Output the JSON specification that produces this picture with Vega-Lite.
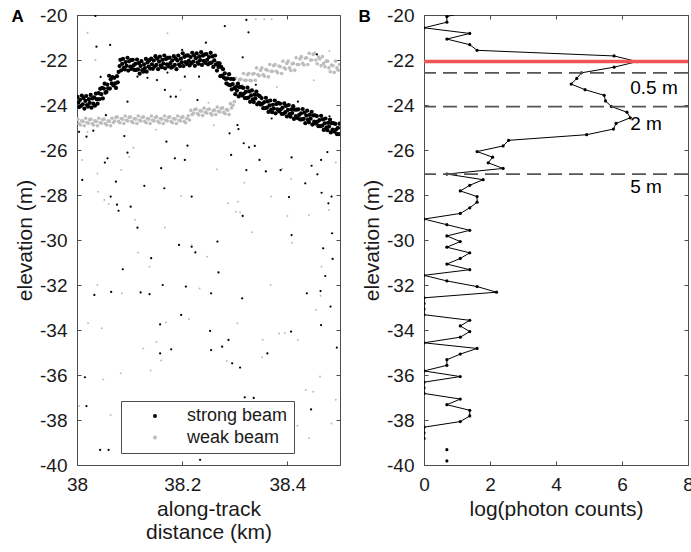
{
"$schema": "https://vega.github.io/schema/vega-lite/v6.json",
"padding": {"left": 11, "top": 5, "right": 0, "bottom": 0},
"spacing": 17,
"config": {
 "font": "Liberation Sans",
 "view": {"stroke": "#4d4d4d", "strokeWidth": 1},
 "axis": {"grid": false, "domain": false, "ticks": true, "tickSize": -4, "tickColor": "#4d4d4d", "labelFont": "Liberation Sans", "labelFontSize": 19, "labelColor": "#1a1a1a", "labelFlush": false, "titleFont": "Liberation Sans", "titleFontSize": 21, "titleFontWeight": "normal", "titleColor": "#1a1a1a", "labelPadding": 14, "titlePadding": 4, "titleLineHeight": 23}
},
"datasets": {
 "sb": [
{"d":38.001,"e":-23.64,"b":"s"},{"d":38.0025,"e":-23.89,"b":"s"},{"d":38.0041,"e":-24.09,"b":"s"},
{"d":38.006,"e":-23.77,"b":"s"},{"d":38.0075,"e":-24.04,"b":"s"},{"d":38.0091,"e":-23.58,"b":"s"},
{"d":38.011,"e":-23.97,"b":"s"},{"d":38.0125,"e":-23.69,"b":"s"},{"d":38.0141,"e":-24.16,"b":"s"},
{"d":38.016,"e":-23.82,"b":"s"},{"d":38.0175,"e":-23.60,"b":"s"},{"d":38.0191,"e":-24.00,"b":"s"},
{"d":38.021,"e":-24.07,"b":"s"},{"d":38.0225,"e":-23.74,"b":"s"},{"d":38.0241,"e":-23.91,"b":"s"},
{"d":38.026,"e":-23.55,"b":"s"},{"d":38.0275,"e":-24.12,"b":"s"},{"d":38.0291,"e":-23.71,"b":"s"},
{"d":38.031,"e":-23.94,"b":"s"},{"d":38.0325,"e":-23.66,"b":"s"},{"d":38.0341,"e":-24.03,"b":"s"},
{"d":38.036,"e":-23.49,"b":"s"},{"d":38.0375,"e":-23.74,"b":"s"},{"d":38.0391,"e":-23.94,"b":"s"},
{"d":38.041,"e":-23.47,"b":"s"},{"d":38.0425,"e":-23.74,"b":"s"},{"d":38.0441,"e":-23.28,"b":"s"},
{"d":38.046,"e":-23.52,"b":"s"},{"d":38.0475,"e":-23.24,"b":"s"},{"d":38.0491,"e":-23.71,"b":"s"},
{"d":38.051,"e":-23.27,"b":"s"},{"d":38.0525,"e":-23.05,"b":"s"},{"d":38.0541,"e":-23.45,"b":"s"},
{"d":38.056,"e":-23.42,"b":"s"},{"d":38.0575,"e":-23.09,"b":"s"},{"d":38.0591,"e":-23.26,"b":"s"},
{"d":38.061,"e":-22.70,"b":"s"},{"d":38.0625,"e":-23.27,"b":"s"},{"d":38.0641,"e":-22.86,"b":"s"},
{"d":38.066,"e":-23.04,"b":"s"},{"d":38.0675,"e":-22.76,"b":"s"},{"d":38.0691,"e":-23.13,"b":"s"},
{"d":38.071,"e":-22.79,"b":"s"},{"d":38.0725,"e":-23.04,"b":"s"},{"d":38.0741,"e":-23.24,"b":"s"},
{"d":38.076,"e":-22.72,"b":"s"},{"d":38.0775,"e":-22.99,"b":"s"},{"d":38.0791,"e":-22.53,"b":"s"},
{"d":38.081,"e":-22.27,"b":"s"},{"d":38.0825,"e":-21.99,"b":"s"},{"d":38.0841,"e":-22.46,"b":"s"},
{"d":38.086,"e":-22.17,"b":"s"},{"d":38.0875,"e":-21.95,"b":"s"},{"d":38.0891,"e":-22.35,"b":"s"},
{"d":38.091,"e":-22.42,"b":"s"},{"d":38.0925,"e":-22.09,"b":"s"},{"d":38.0941,"e":-22.26,"b":"s"},
{"d":38.096,"e":-21.90,"b":"s"},{"d":38.0975,"e":-22.47,"b":"s"},{"d":38.0991,"e":-22.06,"b":"s"},
{"d":38.101,"e":-22.29,"b":"s"},{"d":38.1025,"e":-22.01,"b":"s"},{"d":38.1041,"e":-22.38,"b":"s"},
{"d":38.106,"e":-21.99,"b":"s"},{"d":38.1075,"e":-22.24,"b":"s"},{"d":38.1091,"e":-22.44,"b":"s"},
{"d":38.111,"e":-22.17,"b":"s"},{"d":38.1125,"e":-22.44,"b":"s"},{"d":38.1141,"e":-21.98,"b":"s"},
{"d":38.116,"e":-22.42,"b":"s"},{"d":38.1175,"e":-22.14,"b":"s"},{"d":38.1191,"e":-22.61,"b":"s"},
{"d":38.121,"e":-22.27,"b":"s"},{"d":38.1225,"e":-22.05,"b":"s"},{"d":38.1241,"e":-22.45,"b":"s"},
{"d":38.126,"e":-22.52,"b":"s"},{"d":38.1275,"e":-22.19,"b":"s"},{"d":38.1291,"e":-22.36,"b":"s"},
{"d":38.131,"e":-21.95,"b":"s"},{"d":38.1325,"e":-22.52,"b":"s"},{"d":38.1341,"e":-22.11,"b":"s"},
{"d":38.136,"e":-22.29,"b":"s"},{"d":38.1375,"e":-22.01,"b":"s"},{"d":38.1391,"e":-22.38,"b":"s"},
{"d":38.141,"e":-21.94,"b":"s"},{"d":38.1425,"e":-22.19,"b":"s"},{"d":38.1441,"e":-22.39,"b":"s"},
{"d":38.146,"e":-22.02,"b":"s"},{"d":38.1475,"e":-22.29,"b":"s"},{"d":38.1491,"e":-21.83,"b":"s"},
{"d":38.151,"e":-22.22,"b":"s"},{"d":38.1525,"e":-21.94,"b":"s"},{"d":38.1541,"e":-22.41,"b":"s"},
{"d":38.156,"e":-22.07,"b":"s"},{"d":38.1575,"e":-21.85,"b":"s"},{"d":38.1591,"e":-22.25,"b":"s"},
{"d":38.161,"e":-22.32,"b":"s"},{"d":38.1625,"e":-21.99,"b":"s"},{"d":38.1641,"e":-22.16,"b":"s"},
{"d":38.166,"e":-21.80,"b":"s"},{"d":38.1675,"e":-22.37,"b":"s"},{"d":38.1691,"e":-21.96,"b":"s"},
{"d":38.171,"e":-22.19,"b":"s"},{"d":38.1725,"e":-21.91,"b":"s"},{"d":38.1741,"e":-22.28,"b":"s"},
{"d":38.176,"e":-21.89,"b":"s"},{"d":38.1775,"e":-22.14,"b":"s"},{"d":38.1791,"e":-22.34,"b":"s"},
{"d":38.181,"e":-22.02,"b":"s"},{"d":38.1825,"e":-22.29,"b":"s"},{"d":38.1841,"e":-21.83,"b":"s"},
{"d":38.186,"e":-22.22,"b":"s"},{"d":38.1875,"e":-21.94,"b":"s"},{"d":38.1891,"e":-22.41,"b":"s"},
{"d":38.191,"e":-22.02,"b":"s"},{"d":38.1925,"e":-21.80,"b":"s"},{"d":38.1941,"e":-22.20,"b":"s"},
{"d":38.196,"e":-22.27,"b":"s"},{"d":38.1975,"e":-21.94,"b":"s"},{"d":38.1991,"e":-22.11,"b":"s"},
{"d":38.201,"e":-21.70,"b":"s"},{"d":38.2025,"e":-22.27,"b":"s"},{"d":38.2041,"e":-21.86,"b":"s"},
{"d":38.206,"e":-22.09,"b":"s"},{"d":38.2075,"e":-21.81,"b":"s"},{"d":38.2091,"e":-22.18,"b":"s"},
{"d":38.211,"e":-21.79,"b":"s"},{"d":38.2125,"e":-22.04,"b":"s"},{"d":38.2141,"e":-22.24,"b":"s"},
{"d":38.216,"e":-21.87,"b":"s"},{"d":38.2175,"e":-22.14,"b":"s"},{"d":38.2191,"e":-21.68,"b":"s"},
{"d":38.221,"e":-22.07,"b":"s"},{"d":38.2225,"e":-21.79,"b":"s"},{"d":38.2241,"e":-22.26,"b":"s"},
{"d":38.226,"e":-21.92,"b":"s"},{"d":38.2275,"e":-21.70,"b":"s"},{"d":38.2291,"e":-22.10,"b":"s"},
{"d":38.231,"e":-22.17,"b":"s"},{"d":38.2325,"e":-21.84,"b":"s"},{"d":38.2341,"e":-22.01,"b":"s"},
{"d":38.236,"e":-21.65,"b":"s"},{"d":38.2375,"e":-22.22,"b":"s"},{"d":38.2391,"e":-21.81,"b":"s"},
{"d":38.241,"e":-22.04,"b":"s"},{"d":38.2425,"e":-21.76,"b":"s"},{"d":38.2441,"e":-22.13,"b":"s"},
{"d":38.246,"e":-21.74,"b":"s"},{"d":38.2475,"e":-21.99,"b":"s"},{"d":38.2491,"e":-22.19,"b":"s"},
{"d":38.251,"e":-21.87,"b":"s"},{"d":38.2525,"e":-22.14,"b":"s"},{"d":38.2541,"e":-21.68,"b":"s"},
{"d":38.256,"e":-22.12,"b":"s"},{"d":38.2575,"e":-21.84,"b":"s"},{"d":38.2591,"e":-22.31,"b":"s"},
{"d":38.261,"e":-22.02,"b":"s"},{"d":38.2625,"e":-21.80,"b":"s"},{"d":38.2641,"e":-22.20,"b":"s"},
{"d":38.266,"e":-22.47,"b":"s"},{"d":38.2675,"e":-22.14,"b":"s"},{"d":38.2691,"e":-22.31,"b":"s"},
{"d":38.271,"e":-22.15,"b":"s"},{"d":38.2725,"e":-22.72,"b":"s"},{"d":38.2741,"e":-22.31,"b":"s"},
{"d":38.276,"e":-22.69,"b":"s"},{"d":38.2775,"e":-22.41,"b":"s"},{"d":38.2791,"e":-22.78,"b":"s"},
{"d":38.281,"e":-22.59,"b":"s"},{"d":38.2825,"e":-22.84,"b":"s"},{"d":38.2841,"e":-23.04,"b":"s"},
{"d":38.286,"e":-22.82,"b":"s"},{"d":38.2875,"e":-23.09,"b":"s"},{"d":38.2891,"e":-22.63,"b":"s"},
{"d":38.291,"e":-23.12,"b":"s"},{"d":38.2925,"e":-22.84,"b":"s"},{"d":38.2941,"e":-23.31,"b":"s"},
{"d":38.296,"e":-23.07,"b":"s"},{"d":38.2975,"e":-22.85,"b":"s"},{"d":38.2991,"e":-23.25,"b":"s"},
{"d":38.301,"e":-23.52,"b":"s"},{"d":38.3025,"e":-23.19,"b":"s"},{"d":38.3041,"e":-23.36,"b":"s"},
{"d":38.306,"e":-23.05,"b":"s"},{"d":38.3075,"e":-23.62,"b":"s"},{"d":38.3091,"e":-23.21,"b":"s"},
{"d":38.311,"e":-23.49,"b":"s"},{"d":38.3125,"e":-23.21,"b":"s"},{"d":38.3141,"e":-23.58,"b":"s"},
{"d":38.316,"e":-23.24,"b":"s"},{"d":38.3175,"e":-23.49,"b":"s"},{"d":38.3191,"e":-23.69,"b":"s"},
{"d":38.321,"e":-23.42,"b":"s"},{"d":38.3225,"e":-23.69,"b":"s"},{"d":38.3241,"e":-23.23,"b":"s"},
{"d":38.326,"e":-23.67,"b":"s"},{"d":38.3275,"e":-23.39,"b":"s"},{"d":38.3291,"e":-23.86,"b":"s"},
{"d":38.331,"e":-23.57,"b":"s"},{"d":38.3325,"e":-23.35,"b":"s"},{"d":38.3341,"e":-23.75,"b":"s"},
{"d":38.336,"e":-23.87,"b":"s"},{"d":38.3375,"e":-23.54,"b":"s"},{"d":38.3391,"e":-23.71,"b":"s"},
{"d":38.341,"e":-23.40,"b":"s"},{"d":38.3425,"e":-23.97,"b":"s"},{"d":38.3441,"e":-23.56,"b":"s"},
{"d":38.346,"e":-23.89,"b":"s"},{"d":38.3475,"e":-23.61,"b":"s"},{"d":38.3491,"e":-23.98,"b":"s"},
{"d":38.351,"e":-23.69,"b":"s"},{"d":38.3525,"e":-23.94,"b":"s"},{"d":38.3541,"e":-24.14,"b":"s"},
{"d":38.356,"e":-23.87,"b":"s"},{"d":38.3575,"e":-24.14,"b":"s"},{"d":38.3591,"e":-23.68,"b":"s"},
{"d":38.361,"e":-24.12,"b":"s"},{"d":38.3625,"e":-23.84,"b":"s"},{"d":38.3641,"e":-24.31,"b":"s"},
{"d":38.366,"e":-24.02,"b":"s"},{"d":38.3675,"e":-23.80,"b":"s"},{"d":38.3691,"e":-24.20,"b":"s"},
{"d":38.371,"e":-24.32,"b":"s"},{"d":38.3725,"e":-23.99,"b":"s"},{"d":38.3741,"e":-24.16,"b":"s"},
{"d":38.376,"e":-23.80,"b":"s"},{"d":38.3775,"e":-24.37,"b":"s"},{"d":38.3791,"e":-23.96,"b":"s"},
{"d":38.381,"e":-24.19,"b":"s"},{"d":38.3825,"e":-23.91,"b":"s"},{"d":38.3841,"e":-24.28,"b":"s"},
{"d":38.386,"e":-23.94,"b":"s"},{"d":38.3875,"e":-24.19,"b":"s"},{"d":38.3891,"e":-24.39,"b":"s"},
{"d":38.391,"e":-24.12,"b":"s"},{"d":38.3925,"e":-24.39,"b":"s"},{"d":38.3941,"e":-23.93,"b":"s"},
{"d":38.396,"e":-24.32,"b":"s"},{"d":38.3975,"e":-24.04,"b":"s"},{"d":38.3991,"e":-24.51,"b":"s"},
{"d":38.401,"e":-24.22,"b":"s"},{"d":38.4025,"e":-24.00,"b":"s"},{"d":38.4041,"e":-24.40,"b":"s"},
{"d":38.406,"e":-24.52,"b":"s"},{"d":38.4075,"e":-24.19,"b":"s"},{"d":38.4091,"e":-24.36,"b":"s"},
{"d":38.411,"e":-24.05,"b":"s"},{"d":38.4125,"e":-24.62,"b":"s"},{"d":38.4141,"e":-24.21,"b":"s"},
{"d":38.416,"e":-24.49,"b":"s"},{"d":38.4175,"e":-24.21,"b":"s"},{"d":38.4191,"e":-24.58,"b":"s"},
{"d":38.421,"e":-24.19,"b":"s"},{"d":38.4225,"e":-24.44,"b":"s"},{"d":38.4241,"e":-24.64,"b":"s"},
{"d":38.426,"e":-24.37,"b":"s"},{"d":38.4275,"e":-24.64,"b":"s"},{"d":38.4291,"e":-24.18,"b":"s"},
{"d":38.431,"e":-24.62,"b":"s"},{"d":38.4325,"e":-24.34,"b":"s"},{"d":38.4341,"e":-24.81,"b":"s"},
{"d":38.436,"e":-24.47,"b":"s"},{"d":38.4375,"e":-24.25,"b":"s"},{"d":38.4391,"e":-24.65,"b":"s"},
{"d":38.441,"e":-24.77,"b":"s"},{"d":38.4425,"e":-24.44,"b":"s"},{"d":38.4441,"e":-24.61,"b":"s"},
{"d":38.446,"e":-24.30,"b":"s"},{"d":38.4475,"e":-24.87,"b":"s"},{"d":38.4491,"e":-24.46,"b":"s"},
{"d":38.451,"e":-24.74,"b":"s"},{"d":38.4525,"e":-24.46,"b":"s"},{"d":38.4541,"e":-24.83,"b":"s"},
{"d":38.456,"e":-24.49,"b":"s"},{"d":38.4575,"e":-24.74,"b":"s"},{"d":38.4591,"e":-24.94,"b":"s"},
{"d":38.461,"e":-24.67,"b":"s"},{"d":38.4625,"e":-24.94,"b":"s"},{"d":38.4641,"e":-24.48,"b":"s"},
{"d":38.466,"e":-24.92,"b":"s"},{"d":38.4675,"e":-24.64,"b":"s"},{"d":38.4691,"e":-25.11,"b":"s"},
{"d":38.471,"e":-24.82,"b":"s"},{"d":38.4725,"e":-24.60,"b":"s"},{"d":38.4741,"e":-25.00,"b":"s"},
{"d":38.476,"e":-25.12,"b":"s"},{"d":38.4775,"e":-24.79,"b":"s"},{"d":38.4791,"e":-24.96,"b":"s"},
{"d":38.481,"e":-24.65,"b":"s"},{"d":38.4825,"e":-25.22,"b":"s"},{"d":38.4841,"e":-24.81,"b":"s"},
{"d":38.486,"e":-25.09,"b":"s"},{"d":38.4875,"e":-24.81,"b":"s"},{"d":38.4891,"e":-25.18,"b":"s"},
{"d":38.491,"e":-24.84,"b":"s"},{"d":38.4925,"e":-25.09,"b":"s"},{"d":38.4941,"e":-25.29,"b":"s"},
{"d":38.496,"e":-25.02,"b":"s"},{"d":38.4975,"e":-25.29,"b":"s"},{"d":38.4991,"e":-24.83,"b":"s"}
 ],
 "sn": [
{"d":38.035,"e":-20.04,"b":"s"},{"d":38.326,"e":-20.77,"b":"s"},{"d":38.322,"e":-20.22,"b":"s"},{"d":38.281,"e":-20.49,"b":"s"},{"d":38.037,"e":-21.41,"b":"s"},{"d":38.063,"e":-21.33,"b":"s"},{"d":38.245,"e":-21.23,"b":"s"},{"d":38.315,"e":-21.88,"b":"s"},{"d":38.456,"e":-21.75,"b":"s"},{"d":38.152,"e":-22.89,"b":"s"},{"d":38.167,"e":-23.33,"b":"s"},{"d":38.178,"e":-23.63,"b":"s"},{"d":38.188,"e":-23.63,"b":"s"},{"d":38.229,"e":-23.78,"b":"s"},{"d":38.096,"e":-23.85,"b":"s"},{"d":38.305,"e":-24.89,"b":"s"},{"d":38.307,"e":-25.07,"b":"s"},{"d":38.29,"e":-25.26,"b":"s"},{"d":38.21,"e":-25.81,"b":"s"},{"d":38.17,"e":-25.63,"b":"s"},{"d":38.09,"e":-25.38,"b":"s"},{"d":38.096,"e":-26.12,"b":"s"},{"d":38.058,"e":-26.37,"b":"s"},{"d":38.053,"e":-26.56,"b":"s"},{"d":38.317,"e":-25.7,"b":"s"},{"d":38.327,"e":-25.88,"b":"s"},{"d":38.338,"e":-25.82,"b":"s"},{"d":38.293,"e":-26.22,"b":"s"},{"d":38.322,"e":-26.89,"b":"s"},{"d":38.347,"e":-26.44,"b":"s"},{"d":38.359,"e":-26.95,"b":"s"},{"d":38.387,"e":-26.89,"b":"s"},{"d":38.408,"e":-26.33,"b":"s"},{"d":38.446,"e":-26.7,"b":"s"},{"d":38.464,"e":-26.44,"b":"s"},{"d":38.476,"e":-26.09,"b":"s"},{"d":38.457,"e":-27.08,"b":"s"},{"d":38.16,"e":-26.81,"b":"s"},{"d":38.186,"e":-26.37,"b":"s"},{"d":38.205,"e":-26.44,"b":"s"},{"d":38.074,"e":-27.41,"b":"s"},{"d":38.128,"e":-27.59,"b":"s"},{"d":38.166,"e":-27.7,"b":"s"},{"d":38.218,"e":-28.07,"b":"s"},{"d":38.064,"e":-28.07,"b":"s"},{"d":38.076,"e":-28.43,"b":"s"},{"d":38.079,"e":-28.7,"b":"s"},{"d":38.102,"e":-28.52,"b":"s"},{"d":38.01,"e":-27.33,"b":"s"},{"d":38.434,"e":-27.48,"b":"s"},{"d":38.465,"e":-27.9,"b":"s"},{"d":38.484,"e":-28.07,"b":"s"},{"d":38.478,"e":-28.37,"b":"s"},{"d":38.403,"e":-28.09,"b":"s"},{"d":38.315,"e":-28.93,"b":"s"},{"d":38.115,"e":-29.45,"b":"s"},{"d":38.141,"e":-30.81,"b":"s"},{"d":38.194,"e":-30.22,"b":"s"},{"d":38.218,"e":-30.3,"b":"s"},{"d":38.225,"e":-30.55,"b":"s"},{"d":38.267,"e":-30.07,"b":"s"},{"d":38.408,"e":-29.78,"b":"s"},{"d":38.468,"e":-30.37,"b":"s"},{"d":38.485,"e":-29.7,"b":"s"},{"d":38.486,"e":-30.84,"b":"s"},{"d":38.087,"e":-31.3,"b":"s"},{"d":38.269,"e":-31.44,"b":"s"},{"d":38.472,"e":-31.6,"b":"s"},{"d":38.163,"e":-32.0,"b":"s"},{"d":38.207,"e":-32.07,"b":"s"},
{"d":38.033,"e":-32.44,"b":"s"},{"d":38.065,"e":-32.31,"b":"s"},{"d":38.121,"e":-32.33,"b":"s"},{"d":38.138,"e":-32.41,"b":"s"},{"d":38.255,"e":-32.37,"b":"s"},{"d":38.314,"e":-32.59,"b":"s"},{"d":38.437,"e":-32.37,"b":"s"},{"d":38.463,"e":-32.27,"b":"s"},{"d":38.482,"e":-32.96,"b":"s"},{"d":38.198,"e":-33.33,"b":"s"},{"d":38.158,"e":-33.75,"b":"s"},{"d":38.253,"e":-34.04,"b":"s"},{"d":38.407,"e":-34.07,"b":"s"},{"d":38.464,"e":-33.78,"b":"s"},{"d":38.288,"e":-34.44,"b":"s"},{"d":38.276,"e":-34.74,"b":"s"},{"d":38.255,"e":-34.89,"b":"s"},{"d":38.179,"e":-34.86,"b":"s"},{"d":38.158,"e":-35.04,"b":"s"},{"d":38.362,"e":-35.04,"b":"s"},{"d":38.295,"e":-35.48,"b":"s"},{"d":38.31,"e":-35.67,"b":"s"},{"d":38.494,"e":-34.78,"b":"s"},{"d":38.015,"e":-36.1,"b":"s"},{"d":38.319,"e":-36.99,"b":"s"},{"d":38.336,"e":-37.02,"b":"s"},{"d":38.018,"e":-37.38,"b":"s"},{"d":38.445,"e":-37.53,"b":"s"},{"d":38.044,"e":-39.33,"b":"s"},{"d":38.06,"e":-39.33,"b":"s"},{"d":38.234,"e":-39.77,"b":"s"},
{"d":38.004,"e":-25.19,"b":"s"},{"d":38.018,"e":-25.41,"b":"s"},{"d":38.031,"e":-25.14,"b":"s"},{"d":38.102,"e":-22.44,"b":"s"},{"d":38.115,"e":-22.74,"b":"s"},{"d":38.134,"e":-22.79,"b":"s"},{"d":38.172,"e":-22.56,"b":"s"},{"d":38.205,"e":-22.74,"b":"s"},{"d":38.232,"e":-22.74,"b":"s"},{"d":38.045,"e":-22.75,"b":"s"},{"d":38.2,"e":-21.55,"b":"s"},{"d":38.34,"e":-23.1,"b":"s"},{"d":38.42,"e":-23.85,"b":"s"},{"d":38.48,"e":-24.5,"b":"s"},{"d":38.37,"e":-24.6,"b":"s"},{"d":38.055,"e":-24.45,"b":"s"}
 ],
 "wb": [
{"d":38.0015,"e":-24.63,"b":"w"},{"d":38.004,"e":-24.83,"b":"w"},{"d":38.0065,"e":-24.89,"b":"w"},{"d":38.009,"e":-24.70,"b":"w"},{"d":38.0115,"e":-24.73,"b":"w"},{"d":38.014,"e":-24.92,"b":"w"},{"d":38.0165,"e":-24.59,"b":"w"},{"d":38.019,"e":-24.78,"b":"w"},{"d":38.0215,"e":-24.81,"b":"w"},{"d":38.024,"e":-24.65,"b":"w"},
{"d":38.0265,"e":-24.63,"b":"w"},{"d":38.029,"e":-24.83,"b":"w"},{"d":38.0315,"e":-24.89,"b":"w"},{"d":38.034,"e":-24.70,"b":"w"},{"d":38.0365,"e":-24.73,"b":"w"},{"d":38.039,"e":-24.92,"b":"w"},{"d":38.0415,"e":-24.59,"b":"w"},{"d":38.044,"e":-24.78,"b":"w"},{"d":38.0465,"e":-24.81,"b":"w"},{"d":38.049,"e":-24.65,"b":"w"},
{"d":38.0515,"e":-24.63,"b":"w"},{"d":38.054,"e":-24.83,"b":"w"},{"d":38.0565,"e":-24.89,"b":"w"},{"d":38.059,"e":-24.70,"b":"w"},{"d":38.0615,"e":-24.73,"b":"w"},{"d":38.064,"e":-24.92,"b":"w"},{"d":38.0665,"e":-24.59,"b":"w"},{"d":38.069,"e":-24.78,"b":"w"},{"d":38.0715,"e":-24.71,"b":"w"},{"d":38.074,"e":-24.55,"b":"w"},
{"d":38.0765,"e":-24.53,"b":"w"},{"d":38.079,"e":-24.73,"b":"w"},{"d":38.0815,"e":-24.79,"b":"w"},{"d":38.084,"e":-24.60,"b":"w"},{"d":38.0865,"e":-24.63,"b":"w"},{"d":38.089,"e":-24.82,"b":"w"},{"d":38.0915,"e":-24.49,"b":"w"},{"d":38.094,"e":-24.68,"b":"w"},{"d":38.0965,"e":-24.71,"b":"w"},{"d":38.099,"e":-24.55,"b":"w"},
{"d":38.1015,"e":-24.53,"b":"w"},{"d":38.104,"e":-24.73,"b":"w"},{"d":38.1065,"e":-24.79,"b":"w"},{"d":38.109,"e":-24.60,"b":"w"},{"d":38.1115,"e":-24.63,"b":"w"},{"d":38.114,"e":-24.82,"b":"w"},{"d":38.1165,"e":-24.49,"b":"w"},{"d":38.119,"e":-24.68,"b":"w"},{"d":38.1215,"e":-24.71,"b":"w"},{"d":38.124,"e":-24.55,"b":"w"},
{"d":38.1265,"e":-24.53,"b":"w"},{"d":38.129,"e":-24.73,"b":"w"},{"d":38.1315,"e":-24.79,"b":"w"},{"d":38.134,"e":-24.60,"b":"w"},{"d":38.1365,"e":-24.63,"b":"w"},{"d":38.139,"e":-24.82,"b":"w"},{"d":38.1415,"e":-24.49,"b":"w"},{"d":38.144,"e":-24.68,"b":"w"},{"d":38.1465,"e":-24.71,"b":"w"},{"d":38.149,"e":-24.55,"b":"w"},
{"d":38.1515,"e":-24.53,"b":"w"},{"d":38.154,"e":-24.73,"b":"w"},{"d":38.1565,"e":-24.79,"b":"w"},{"d":38.159,"e":-24.60,"b":"w"},{"d":38.1615,"e":-24.63,"b":"w"},{"d":38.164,"e":-24.82,"b":"w"},{"d":38.1665,"e":-24.49,"b":"w"},{"d":38.169,"e":-24.68,"b":"w"},{"d":38.1715,"e":-24.71,"b":"w"},{"d":38.174,"e":-24.55,"b":"w"},
{"d":38.1765,"e":-24.53,"b":"w"},{"d":38.179,"e":-24.73,"b":"w"},{"d":38.1815,"e":-24.79,"b":"w"},{"d":38.184,"e":-24.60,"b":"w"},{"d":38.1865,"e":-24.63,"b":"w"},{"d":38.189,"e":-24.82,"b":"w"},{"d":38.1915,"e":-24.49,"b":"w"},{"d":38.194,"e":-24.68,"b":"w"},{"d":38.1965,"e":-24.71,"b":"w"},{"d":38.199,"e":-24.55,"b":"w"},
{"d":38.2015,"e":-24.53,"b":"w"},{"d":38.204,"e":-24.73,"b":"w"},{"d":38.2065,"e":-24.79,"b":"w"},{"d":38.209,"e":-24.60,"b":"w"},{"d":38.2115,"e":-24.48,"b":"w"},{"d":38.214,"e":-24.67,"b":"w"},{"d":38.2165,"e":-24.24,"b":"w"},{"d":38.219,"e":-24.43,"b":"w"},{"d":38.2215,"e":-24.36,"b":"w"},{"d":38.224,"e":-24.20,"b":"w"},
{"d":38.2265,"e":-24.18,"b":"w"},{"d":38.229,"e":-24.38,"b":"w"},{"d":38.2315,"e":-24.44,"b":"w"},{"d":38.234,"e":-24.25,"b":"w"},{"d":38.2365,"e":-24.28,"b":"w"},{"d":38.239,"e":-24.47,"b":"w"},{"d":38.2415,"e":-24.14,"b":"w"},{"d":38.244,"e":-24.33,"b":"w"},{"d":38.2465,"e":-24.36,"b":"w"},{"d":38.249,"e":-24.20,"b":"w"},
{"d":38.2515,"e":-24.18,"b":"w"},{"d":38.254,"e":-24.38,"b":"w"},{"d":38.2565,"e":-24.44,"b":"w"},{"d":38.259,"e":-24.25,"b":"w"},{"d":38.2615,"e":-24.23,"b":"w"},{"d":38.264,"e":-24.42,"b":"w"},{"d":38.2665,"e":-24.09,"b":"w"},{"d":38.269,"e":-24.28,"b":"w"},{"d":38.2715,"e":-24.31,"b":"w"},{"d":38.274,"e":-24.15,"b":"w"},
{"d":38.2765,"e":-24.13,"b":"w"},{"d":38.279,"e":-24.33,"b":"w"},{"d":38.2815,"e":-24.39,"b":"w"},{"d":38.284,"e":-24.20,"b":"w"},{"d":38.2865,"e":-24.23,"b":"w"},{"d":38.289,"e":-24.42,"b":"w"},{"d":38.2915,"e":-23.94,"b":"w"},{"d":38.294,"e":-24.13,"b":"w"},{"d":38.2965,"e":-24.01,"b":"w"},{"d":38.299,"e":-23.85,"b":"w"},
{"d":38.3015,"e":-22.80,"b":"w"},{"d":38.304,"e":-23.10,"b":"w"},{"d":38.3065,"e":-23.17,"b":"w"},{"d":38.309,"e":-22.87,"b":"w"},{"d":38.3115,"e":-22.85,"b":"w"},{"d":38.314,"e":-23.15,"b":"w"},{"d":38.3165,"e":-22.60,"b":"w"},{"d":38.319,"e":-22.90,"b":"w"},{"d":38.3215,"e":-22.90,"b":"w"},{"d":38.324,"e":-22.65,"b":"w"},
{"d":38.3265,"e":-22.60,"b":"w"},{"d":38.329,"e":-22.90,"b":"w"},{"d":38.3315,"e":-22.92,"b":"w"},{"d":38.334,"e":-22.62,"b":"w"},{"d":38.3365,"e":-22.60,"b":"w"},{"d":38.339,"e":-22.90,"b":"w"},{"d":38.3415,"e":-22.35,"b":"w"},{"d":38.344,"e":-22.65,"b":"w"},{"d":38.3465,"e":-22.70,"b":"w"},{"d":38.349,"e":-22.45,"b":"w"},
{"d":38.3515,"e":-22.35,"b":"w"},{"d":38.354,"e":-22.65,"b":"w"},{"d":38.3565,"e":-22.72,"b":"w"},{"d":38.359,"e":-22.42,"b":"w"},{"d":38.3615,"e":-22.45,"b":"w"},{"d":38.364,"e":-22.75,"b":"w"},{"d":38.3665,"e":-22.20,"b":"w"},{"d":38.369,"e":-22.50,"b":"w"},{"d":38.3715,"e":-22.50,"b":"w"},{"d":38.374,"e":-22.25,"b":"w"},
{"d":38.3765,"e":-22.20,"b":"w"},{"d":38.379,"e":-22.50,"b":"w"},{"d":38.3815,"e":-22.57,"b":"w"},{"d":38.384,"e":-22.27,"b":"w"},{"d":38.3865,"e":-22.30,"b":"w"},{"d":38.389,"e":-22.60,"b":"w"},{"d":38.3915,"e":-22.05,"b":"w"},{"d":38.394,"e":-22.35,"b":"w"},{"d":38.3965,"e":-22.40,"b":"w"},{"d":38.399,"e":-22.15,"b":"w"},
{"d":38.4015,"e":-22.05,"b":"w"},{"d":38.404,"e":-22.35,"b":"w"},{"d":38.4065,"e":-22.47,"b":"w"},{"d":38.409,"e":-22.17,"b":"w"},{"d":38.4115,"e":-22.15,"b":"w"},{"d":38.414,"e":-22.45,"b":"w"},{"d":38.4165,"e":-21.90,"b":"w"},{"d":38.419,"e":-22.20,"b":"w"},{"d":38.4215,"e":-22.20,"b":"w"},{"d":38.424,"e":-21.95,"b":"w"},
{"d":38.4265,"e":-21.85,"b":"w"},{"d":38.429,"e":-22.15,"b":"w"},{"d":38.4315,"e":-22.22,"b":"w"},{"d":38.434,"e":-21.92,"b":"w"},{"d":38.4365,"e":-21.90,"b":"w"},{"d":38.439,"e":-22.20,"b":"w"},{"d":38.4415,"e":-21.70,"b":"w"},{"d":38.444,"e":-22.00,"b":"w"},{"d":38.4465,"e":-22.00,"b":"w"},{"d":38.449,"e":-21.75,"b":"w"},
{"d":38.4515,"e":-21.70,"b":"w"},{"d":38.454,"e":-22.00,"b":"w"},{"d":38.4565,"e":-22.17,"b":"w"},{"d":38.459,"e":-21.87,"b":"w"},{"d":38.4615,"e":-21.95,"b":"w"},{"d":38.464,"e":-22.25,"b":"w"},{"d":38.4665,"e":-21.85,"b":"w"},{"d":38.469,"e":-22.15,"b":"w"},{"d":38.4715,"e":-22.30,"b":"w"},{"d":38.474,"e":-22.05,"b":"w"},
{"d":38.4765,"e":-22.05,"b":"w"},{"d":38.479,"e":-22.35,"b":"w"},{"d":38.4815,"e":-22.52,"b":"w"},{"d":38.484,"e":-22.22,"b":"w"},{"d":38.4865,"e":-22.25,"b":"w"},{"d":38.489,"e":-22.55,"b":"w"},{"d":38.4915,"e":-22.05,"b":"w"},{"d":38.494,"e":-22.35,"b":"w"},{"d":38.4965,"e":-22.45,"b":"w"},{"d":38.499,"e":-22.20,"b":"w"}
 ],
 "wn": [
{"d":38.02,"e":-20.79,"b":"w"},{"d":38.172,"e":-20.81,"b":"w"},{"d":38.34,"e":-20.19,"b":"w"},{"d":38.356,"e":-20.19,"b":"w"},{"d":38.37,"e":-20.19,"b":"w"},{"d":38.035,"e":-22.0,"b":"w"},{"d":38.197,"e":-23.33,"b":"w"},{"d":38.107,"e":-25.9,"b":"w"},{"d":38.099,"e":-26.3,"b":"w"},{"d":38.084,"e":-26.89,"b":"w"},{"d":38.039,"e":-27.04,"b":"w"},{"d":38.04,"e":-27.85,"b":"w"},{"d":38.052,"e":-28.22,"b":"w"},{"d":38.06,"e":-28.4,"b":"w"},{"d":38.01,"e":-26.44,"b":"w"},{"d":38.266,"e":-26.86,"b":"w"},{"d":38.287,"e":-28.37,"b":"w"},{"d":38.306,"e":-28.3,"b":"w"},{"d":38.31,"e":-28.77,"b":"w"},{"d":38.318,"e":-27.45,"b":"w"},{"d":38.39,"e":-26.83,"b":"w"},{"d":38.407,"e":-27.29,"b":"w"},{"d":38.4,"e":-28.93,"b":"w"},{"d":38.409,"e":-30.12,"b":"w"},{"d":38.441,"e":-28.89,"b":"w"},{"d":38.479,"e":-28.67,"b":"w"},{"d":38.492,"e":-26.56,"b":"w"},{"d":38.11,"e":-29.1,"b":"w"},{"d":38.167,"e":-29.44,"b":"w"},{"d":38.138,"e":-31.19,"b":"w"},{"d":38.116,"e":-30.55,"b":"w"},{"d":38.198,"e":-28.04,"b":"w"},{"d":38.218,"e":-30.22,"b":"w"},{"d":38.247,"e":-30.74,"b":"w"},{"d":38.302,"e":-28.74,"b":"w"},{"d":38.333,"e":-29.66,"b":"w"},{"d":38.369,"e":-28.07,"b":"w"},{"d":38.465,"e":-31.19,"b":"w"},{"d":38.039,"e":-32.0,"b":"w"},{"d":38.085,"e":-32.37,"b":"w"},{"d":38.021,"e":-33.7,"b":"w"},{"d":38.047,"e":-33.92,"b":"w"},{"d":38.083,"e":-35.92,"b":"w"},{"d":38.05,"e":-36.2,"b":"w"},{"d":38.064,"e":-37.78,"b":"w"},{"d":38.004,"e":-37.38,"b":"w"},{"d":38.126,"e":-34.82,"b":"w"},{"d":38.151,"e":-34.53,"b":"w"},{"d":38.16,"e":-35.36,"b":"w"},{"d":38.14,"e":-35.8,"b":"w"},{"d":38.169,"e":-33.67,"b":"w"},{"d":38.213,"e":-33.51,"b":"w"},{"d":38.233,"e":-32.15,"b":"w"},{"d":38.305,"e":-33.7,"b":"w"},{"d":38.285,"e":-35.38,"b":"w"},{"d":38.353,"e":-34.43,"b":"w"},{"d":38.384,"e":-34.16,"b":"w"},{"d":38.395,"e":-34.13,"b":"w"},{"d":38.42,"e":-34.44,"b":"w"},{"d":38.368,"e":-32.0,"b":"w"},{"d":38.454,"e":-33.11,"b":"w"},{"d":38.435,"e":-36.67,"b":"w"},{"d":38.419,"e":-38.25,"b":"w"},{"d":38.441,"e":-38.81,"b":"w"},{"d":38.462,"e":-36.07,"b":"w"},{"d":38.492,"e":-37.1,"b":"w"},{"d":38.484,"e":-38.15,"b":"w"},{"d":38.463,"e":-32.48,"b":"w"},{"d":38.449,"e":-36.74,"b":"w"},{"d":38.352,"e":-35.21,"b":"w"},
{"d":38.02,"e":-25.2,"b":"w"},{"d":38.15,"e":-25.1,"b":"w"},{"d":38.25,"e":-23.9,"b":"w"},{"d":38.26,"e":-24.9,"b":"w"},{"d":38.31,"e":-23.6,"b":"w"},{"d":38.38,"e":-23.2,"b":"w"},{"d":38.45,"e":-22.9,"b":"w"},{"d":38.48,"e":-21.6,"b":"w"}
 ],
 "prof": [
{"k":-1,"e":-19.82,"c":1.386,"g":1},{"k":0,"e":-20.07,"c":0.693,"g":1},{"k":1,"e":-20.32,"c":0.693,"g":1},{"k":2,"e":-20.57,"c":0,"g":1},{"k":3,"e":-20.82,"c":1.386,"g":1},{"k":4,"e":-21.07,"c":0.693,"g":1},{"k":5,"e":-21.32,"c":1.386,"g":1},{"k":6,"e":-21.57,"c":1.609,"g":1},{"k":7,"e":-21.82,"c":5.76,"g":1},{"k":8,"e":-22.07,"c":6.46,"g":1},{"k":9,"e":-22.32,"c":5.76,"g":1},{"k":10,"e":-22.57,"c":4.77,"g":1},{"k":11,"e":-22.82,"c":4.63,"g":1},{"k":12,"e":-23.07,"c":4.46,"g":1},{"k":13,"e":-23.32,"c":4.88,"g":1},{"k":14,"e":-23.57,"c":5.46,"g":1},{"k":15,"e":-23.82,"c":5.5,"g":1},{"k":16,"e":-24.07,"c":5.68,"g":1},{"k":17,"e":-24.32,"c":6.15,"g":1},{"k":18,"e":-24.57,"c":6.25,"g":1},{"k":19,"e":-24.82,"c":5.82,"g":1},{"k":20,"e":-25.07,"c":5.74,"g":1},{"k":21,"e":-25.32,"c":4.93,"g":1},{"k":22,"e":-25.57,"c":2.565,"g":1},{"k":23,"e":-25.82,"c":2.398,"g":1},{"k":24,"e":-26.07,"c":1.609,"g":1},{"k":25,"e":-26.32,"c":2.079,"g":1},{"k":26,"e":-26.57,"c":1.946,"g":1},{"k":27,"e":-26.82,"c":2.398,"g":1},{"k":28,"e":-27.07,"c":0.693,"g":1},{"k":29,"e":-27.32,"c":1.792,"g":1},{"k":30,"e":-27.57,"c":1.386,"g":1},{"k":31,"e":-27.82,"c":1.099,"g":1},{"k":32,"e":-28.07,"c":1.609,"g":1},{"k":33,"e":-28.32,"c":1.609,"g":1},{"k":34,"e":-28.57,"c":1.386,"g":1},{"k":35,"e":-28.82,"c":1.099,"g":1},{"k":36,"e":-29.07,"c":0,"g":1},{"k":37,"e":-29.32,"c":0.693,"g":1},{"k":38,"e":-29.57,"c":1.386,"g":1},{"k":39,"e":-29.82,"c":0.693,"g":1},{"k":40,"e":-30.07,"c":1.099,"g":1},{"k":41,"e":-30.32,"c":0.693,"g":1},{"k":42,"e":-30.57,"c":1.386,"g":1},{"k":43,"e":-30.82,"c":1.099,"g":1},{"k":44,"e":-31.07,"c":0.693,"g":1},{"k":45,"e":-31.32,"c":1.386,"g":1},{"k":46,"e":-31.57,"c":0,"g":1},{"k":47,"e":-31.82,"c":0.693,"g":1},{"k":48,"e":-32.07,"c":1.609,"g":1},{"k":49,"e":-32.32,"c":2.197,"g":1},{"k":50,"e":-32.57,"c":0,"g":1},{"k":51,"e":-32.82,"c":0,"g":1},{"k":52,"e":-33.07,"c":0,"g":1},{"k":53,"e":-33.32,"c":0,"g":1},{"k":54,"e":-33.57,"c":1.386,"g":1},{"k":55,"e":-33.82,"c":1.099,"g":1},{"k":56,"e":-34.07,"c":1.386,"g":1},{"k":57,"e":-34.32,"c":1.099,"g":1},{"k":58,"e":-34.57,"c":0,"g":1},{"k":59,"e":-34.82,"c":1.609,"g":1},{"k":60,"e":-35.07,"c":1.099,"g":1},{"k":61,"e":-35.32,"c":0.693,"g":1},{"k":62,"e":-35.57,"c":0.693,"g":1},{"k":63,"e":-35.82,"c":0,"g":1},{"k":64,"e":-36.07,"c":1.099,"g":1},{"k":65,"e":-36.32,"c":0,"g":1},{"k":66,"e":-36.57,"c":0,"g":1},{"k":67,"e":-36.82,"c":0,"g":1},{"k":68,"e":-37.07,"c":1.099,"g":1},{"k":69,"e":-37.32,"c":0.693,"g":1},{"k":70,"e":-37.57,"c":1.386,"g":1},{"k":71,"e":-37.82,"c":1.386,"g":1},{"k":72,"e":-38.07,"c":1.099,"g":1},{"k":73,"e":-38.32,"c":0,"g":1},{"k":74,"e":-38.57,"c":0,"g":1},{"k":75,"e":-38.82,"c":0,"g":1},{"k":77,"e":-39.32,"c":0.693,"g":2},{"k":79,"e":-39.82,"c":0.693,"g":3}
 ],
 "dash": [{"e":-22.57},{"e":-24.07},{"e":-27.07}],
 "red": [{"e":-22.07}],
 "lab": [{"c":6.25,"e":-23.23,"t":"0.5 m"},{"c":6.25,"e":-24.84,"t":"2 m"},{"c":6.25,"e":-27.63,"t":"5 m"}]
},
"hconcat": [
 {
  "width": 263, "height": 450,
  "title": {"text": "A", "anchor": "start", "frame": "bounds", "fontSize": 17, "fontWeight": "bold", "color": "#000000", "offset": 0, "dy": 20, "dx": -3},
  "resolve": {"axis": {"x": "independent", "y": "independent"}},
  "layer": [
   {
    "encoding": {
     "x": {"field": "d", "type": "quantitative", "scale": {"domain": [38, 38.5], "nice": false, "zero": false}, "axis": {"values": [38, 38.2, 38.4], "labelExpr": "'' + datum.value", "title": ["along-track", "distance (km)"]}},
     "y": {"field": "e", "type": "quantitative", "scale": {"domain": [-40, -20], "nice": false, "zero": false}, "axis": {"values": [-20,-22,-24,-26,-28,-30,-32,-34,-36,-38,-40], "labelExpr": "'' + datum.value", "title": "elevation (m)"}},
     "color": {"field": "b", "type": "nominal", "scale": {"domain": ["s", "w"], "range": ["#000000", "#bdbdbd"]},
      "legend": {"orient": "none", "legendX": 44, "legendY": 386, "title": null, "labelExpr": "datum.label == 's' ? 'strong beam' : 'weak beam'", "strokeColor": "#4d4d4d", "fillColor": "#ffffff", "padding": 6, "labelFontSize": 18, "labelColor": "#1a1a1a", "symbolType": "circle", "symbolSize": 16, "symbolStrokeWidth": 0, "symbolOffset": 19, "labelOffset": 23, "rowPadding": 3.5, "labelFont": "Liberation Sans"}}
    },
    "layer": [
     {"data": {"name": "wb"}, "mark": {"type": "circle", "size": 13, "opacity": 1, "clip": true}},
     {"data": {"name": "wn"}, "mark": {"type": "circle", "size": 4, "opacity": 1, "clip": true}},
     {"data": {"name": "sb"}, "mark": {"type": "circle", "size": 18, "opacity": 1, "clip": true}},
     {"data": {"name": "sn"}, "mark": {"type": "circle", "size": 5, "opacity": 1, "clip": true}}
    ]
   },
   {
    "data": {"values": [{"d": 38, "e": -40}]},
    "mark": {"type": "circle", "opacity": 0},
    "encoding": {
     "x": {"field": "d", "type": "quantitative", "scale": {"domain": [38, 38.5], "nice": false, "zero": false}, "axis": {"orient": "top", "values": [38, 38.2, 38.4], "labels": false, "title": null}},
     "y": {"field": "e", "type": "quantitative", "scale": {"domain": [-40, -20], "nice": false, "zero": false}, "axis": {"orient": "right", "values": [-20,-22,-24,-26,-28,-30,-32,-34,-36,-38,-40], "labels": false, "title": null}}
    }
   }
  ]
 },
 {
  "width": 264, "height": 450,
  "title": {"text": "B", "anchor": "start", "frame": "bounds", "fontSize": 17, "fontWeight": "bold", "color": "#000000", "offset": 0, "dy": 20, "dx": -3},
  "resolve": {"axis": {"x": "independent", "y": "independent"}},
  "layer": [
   {
    "layer": [
     {"data": {"name": "prof"}, "mark": {"type": "line", "color": "#000000", "strokeWidth": 1, "clip": true},
      "encoding": {
       "x": {"field": "c", "type": "quantitative", "scale": {"domain": [0, 8], "nice": false, "zero": false}, "axis": {"values": [0, 2, 4, 6, 8], "labelExpr": "'' + datum.value", "title": "log(photon counts)"}},
       "y": {"field": "e", "type": "quantitative", "scale": {"domain": [-40, -20], "nice": false, "zero": false}, "axis": {"values": [-20,-22,-24,-26,-28,-30,-32,-34,-36,-38,-40], "labelExpr": "'' + datum.value", "title": "elevation (m)"}},
       "detail": {"field": "g", "type": "nominal"},
       "order": {"field": "k", "type": "quantitative"}
      }},
     {"data": {"name": "prof"}, "mark": {"type": "circle", "color": "#000000", "size": 10, "opacity": 1, "clip": true},
      "encoding": {
       "x": {"field": "c", "type": "quantitative", "axis": {"values": [0, 2, 4, 6, 8], "labelExpr": "'' + datum.value", "title": "log(photon counts)"}},
       "y": {"field": "e", "type": "quantitative", "axis": {"values": [-20,-22,-24,-26,-28,-30,-32,-34,-36,-38,-40], "labelExpr": "'' + datum.value", "title": "elevation (m)"}}
      }},
     {"data": {"name": "dash"}, "mark": {"type": "rule", "color": "#555555", "strokeWidth": 1.8, "strokeDash": [14, 7]},
      "encoding": {"y": {"field": "e", "type": "quantitative", "axis": {"values": [-20,-22,-24,-26,-28,-30,-32,-34,-36,-38,-40], "labelExpr": "'' + datum.value", "title": "elevation (m)"}}}},
     {"data": {"name": "red"}, "mark": {"type": "rule", "color": "#f05454", "strokeWidth": 3.5},
      "encoding": {"y": {"field": "e", "type": "quantitative", "axis": {"values": [-20,-22,-24,-26,-28,-30,-32,-34,-36,-38,-40], "labelExpr": "'' + datum.value", "title": "elevation (m)"}}}},
     {"data": {"name": "lab"}, "mark": {"type": "text", "align": "left", "baseline": "middle", "fontSize": 19, "color": "#000000", "font": "Liberation Sans"},
      "encoding": {
       "x": {"field": "c", "type": "quantitative", "axis": {"values": [0, 2, 4, 6, 8], "labelExpr": "'' + datum.value", "title": "log(photon counts)"}},
       "y": {"field": "e", "type": "quantitative", "axis": {"values": [-20,-22,-24,-26,-28,-30,-32,-34,-36,-38,-40], "labelExpr": "'' + datum.value", "title": "elevation (m)"}},
       "text": {"field": "t", "type": "nominal"}
      }}
    ]
   },
   {
    "data": {"values": [{"c": 0, "e": -40}]},
    "mark": {"type": "circle", "opacity": 0},
    "encoding": {
     "x": {"field": "c", "type": "quantitative", "scale": {"domain": [0, 8], "nice": false, "zero": false}, "axis": {"orient": "top", "values": [0, 2, 4, 6, 8], "labels": false, "title": null}},
     "y": {"field": "e", "type": "quantitative", "scale": {"domain": [-40, -20], "nice": false, "zero": false}, "axis": {"orient": "right", "values": [-20,-22,-24,-26,-28,-30,-32,-34,-36,-38,-40], "labels": false, "title": null}}
    }
   }
  ]
 }
]
}
